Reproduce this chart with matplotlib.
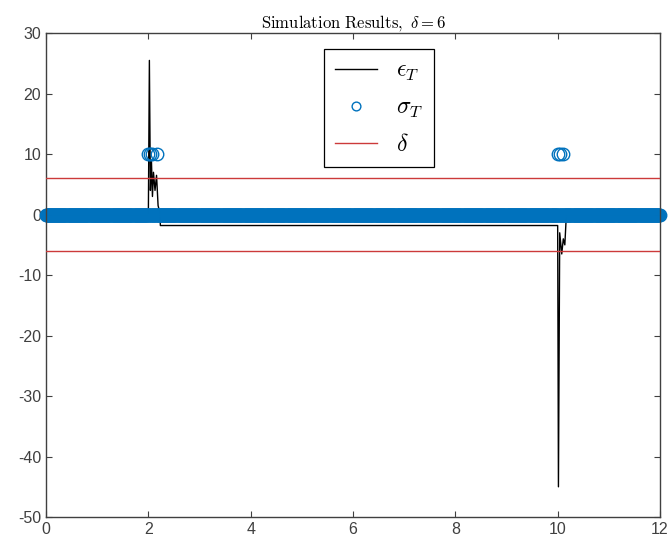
import numpy as np
import matplotlib
matplotlib.use("Agg")
import matplotlib.pyplot as plt

plt.rcParams['mathtext.fontset'] = 'cm'
plt.rcParams['axes.unicode_minus'] = False
plt.rcParams['font.family'] = ['Liberation Sans', 'DejaVu Sans']

# epsilon_T breakpoints (time, value)
eps_t = [0, 2.0, 2.02, 2.04, 2.06, 2.08, 2.10, 2.13, 2.16, 2.19, 2.22, 2.235,
         10.0, 10.015, 10.04, 10.08, 10.11, 10.14, 10.17, 12]
eps_v = [0, 0, 25.5, 4, 9, 3, 7, 4, 6.5, 1.5, 0.5, -1.8,
         -1.8, -45, -3, -6.5, -4, -5, 0, 0]

# sigma_T: sampled every 0.01 s, zero except at the switching events
sigma_step = 0.01
sigma_event_t = [2.0, 2.04, 2.08, 2.16, 10.0, 10.04, 10.1]
sigma_event_v = [10, 10, 10, 10, 10, 10, 10]

delta = 6

sigma_t = np.round(np.arange(0, 12 + sigma_step / 2, sigma_step), 2)
sigma_v = np.zeros_like(sigma_t)
for t, v in zip(sigma_event_t, sigma_event_v):
    sigma_v[np.argmin(np.abs(sigma_t - t))] = v

fig = plt.figure(figsize=(6.71, 5.53), dpi=100)
ax = fig.add_axes([0.0686, 0.065, 0.915, 0.875])

blue = '#0072BD'
ax.plot(eps_t, eps_v, color='black', lw=1.0, label=r'$\epsilon_T$', zorder=1)
ax.plot(sigma_t, sigma_v, 'o', mfc='none', mec=blue, ms=9, mew=1.0,
        label=r'$\sigma_T$', zorder=2, clip_on=False)
ax.axhline(delta, color='#cc3a3a', lw=1.0, label=r'$\delta$', zorder=3)
ax.axhline(-delta, color='#cc3a3a', lw=1.0, zorder=3)

ax.set_xlim(0, 12)
ax.set_ylim(-50, 30)
ax.set_xticks(range(0, 13, 2))
ax.set_yticks(range(-50, 31, 10))
ax.tick_params(direction='in', top=True, right=True, length=4, width=0.8,
               colors='#404040', labelsize=11.5, labelcolor='#404040')
for s in ax.spines.values():
    s.set_color('#404040')
    s.set_linewidth(1.0)

ax.set_title(r'$\mathrm{Simulation\ Results,}\ \delta = 6$', fontsize=12, pad=4)

leg = ax.legend(loc='upper left', bbox_to_anchor=(0.453, 0.967), fontsize=17,
                fancybox=False, edgecolor='black', framealpha=1,
                handlelength=1.8, borderpad=0.45, labelspacing=0.6,
                borderaxespad=0, markerscale=0.7)
leg.get_frame().set_linewidth(0.9)
leg.set_zorder(5)

fig.savefig('out.png', dpi=100)
